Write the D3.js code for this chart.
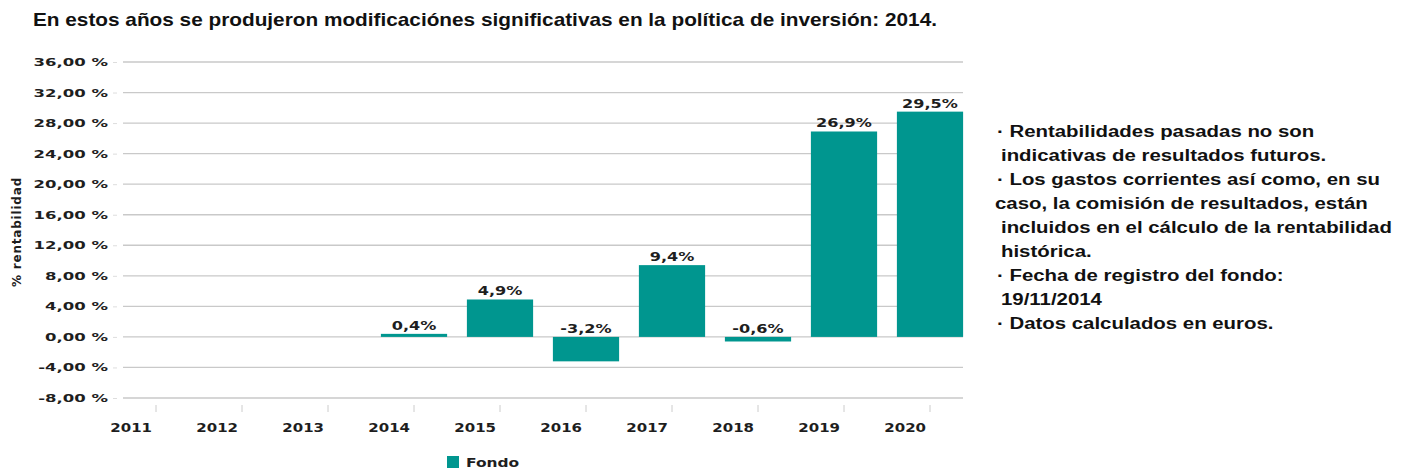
<!DOCTYPE html>
<html>
<head>
<meta charset="utf-8">
<script src="https://cdn.jsdelivr.net/npm/d3@7"></script>
<style>
  body { margin: 0; background: #fff; }
  .axis-label { font-family: "DejaVu Sans", sans-serif; font-weight: bold; fill: #1e1e1e; }
  .note { font-family: "Liberation Sans", Arial, sans-serif; font-weight: bold; font-size: 17px; fill: #111; }
</style>
</head>
<body>
<div class="chart"></div>
<script>
// data
let years = ["2011", "2012", "2013", "2014", "2015", "2016", "2017", "2018", "2019", "2020"];
let fondo = [null, null, null, 0.4, 4.9, -3.2, 9.4, -0.6, 26.9, 29.5];
let yTicks = [-8, -4, 0, 4, 8, 12, 16, 20, 24, 28, 32, 36];
let seriesName = "Fondo";
let title = "En estos años se produjeron modificaciónes significativas en la política de inversión: 2014.";
let notes = [
  "· Rentabilidades pasadas no son",
  "indicativas de resultados futuros.",
  "· Los gastos corrientes así como, en su",
  "caso, la comisión de resultados, están",
  "incluidos en el cálculo de la rentabilidad",
  "histórica.",
  "· Fecha de registro del fondo:",
  "19/11/2014",
  "· Datos calculados en euros."
];

let W = 1413, H = 472;
let color = "#00968f";

let svg = d3.select(".chart")
  .append("svg")
  .attr("width", W)
  .attr("height", H);

let data = years.map((y, i) => ({ year: y, value: fondo[i] }));

let x = d3.scaleBand()
  .domain(years)
  .range([113, 973])
  .paddingInner(0.23)
  .paddingOuter(0.115);

let y = d3.scaleLinear()
  .domain([-8, 36])
  .range([398, 62]);

let fmtTick = v => d3.format(".2f")(v).replace(".", ",").replace("−", "-") + " %";
let fmtVal = v => d3.format(".1f")(v).replace(".", ",").replace("−", "-") + "%";

// text in the picture is drawn a bit wider than the font
function stretch(sel, k) {
  sel.each(function() {
    let t = d3.select(this);
    let tx = +t.attr("x") || 0;
    t.attr("x", tx / k).attr("transform", "scale(" + k + ",1)");
  });
}

// title
svg.append("text")
  .attr("x", 33)
  .attr("y", 26)
  .attr("textLength", 904)
  .attr("lengthAdjust", "spacingAndGlyphs")
  .style("font-family", "'Liberation Sans', Arial, sans-serif")
  .style("font-weight", "bold")
  .style("font-size", "18.5px")
  .style("fill", "#111")
  .text(title);

// grid
svg.append("g")
  .selectAll("line")
  .data(yTicks)
  .enter()
  .append("line")
  .attr("x1", 123)
  .attr("x2", 963)
  .attr("y1", d => y(d))
  .attr("y2", d => y(d))
  .attr("stroke", "#c9c9c9")
  .attr("stroke-width", 1.3);

// y axis
let yAxis = d3.axisLeft(y)
  .tickValues(yTicks)
  .tickFormat(fmtTick)
  .tickSize(4)
  .tickPadding(5);

let yAxisGroup = svg.append("g")
  .attr("transform", "translate(117,0)")
  .call(yAxis);
yAxisGroup.select(".domain").remove();
yAxisGroup.selectAll(".tick line").attr("stroke", "#ddd");
yAxisGroup.selectAll(".tick text")
  .attr("class", "axis-label")
  .style("font-size", "11px")
  .call(stretch, 1.5);

// x axis
let xAxis = d3.axisBottom(x).tickSize(0).tickPadding(0);
let xAxisGroup = svg.append("g")
  .attr("transform", "translate(0,405)")
  .call(xAxis);
xAxisGroup.select(".domain").remove();
xAxisGroup.selectAll(".tick").append("line")
  .attr("y1", 0)
  .attr("y2", 7)
  .attr("stroke", "#ccc");
xAxisGroup.selectAll(".tick text")
  .attr("class", "axis-label")
  .attr("text-anchor", "end")
  .attr("x", -4)
  .attr("dy", 0)
  .attr("y", 27)
  .style("font-size", "12.5px")
  .call(stretch, 1.2);

// y axis title
svg.append("text")
  .attr("class", "axis-label")
  .attr("transform", "translate(21,232) rotate(-90)")
  .attr("text-anchor", "middle")
  .style("font-size", "12px")
  .style("letter-spacing", "0.8px")
  .text("% rentabilidad");

// bars
let shown = data.filter(d => d.value !== null);

svg.selectAll(".bar")
  .data(shown)
  .enter()
  .append("rect")
  .attr("class", "bar")
  .attr("x", d => x(d.year))
  .attr("width", x.bandwidth())
  .attr("y", d => y(Math.max(0, d.value)))
  .attr("height", d => Math.abs(y(d.value) - y(0)))
  .attr("fill", color);

svg.selectAll(".bar-label")
  .data(shown)
  .enter()
  .append("text")
  .attr("class", "axis-label bar-label")
  .attr("transform", d => "translate(" + (x(d.year) + x.bandwidth() / 2) + "," + (y(Math.max(0, d.value)) - 4) + ") scale(1.4,1)")
  .attr("text-anchor", "middle")
  .style("font-size", "11.5px")
  .text(d => fmtVal(d.value));

// legend
let legend = svg.append("g").attr("transform", "translate(447,456)");
legend.append("rect")
  .attr("width", 12)
  .attr("height", 12)
  .attr("fill", color);
legend.append("text")
  .attr("class", "axis-label")
  .attr("transform", "translate(19,11) scale(1.29,1)")
  .style("font-size", "12px")
  .text(seriesName);

// notes on the right
let noteX = [997, 1001, 997, 995, 1001, 1001, 997, 1001, 997];
svg.append("g")
  .selectAll("text")
  .data(notes)
  .enter()
  .append("text")
  .attr("class", "note")
  .attr("transform", (d, i) => "translate(" + noteX[i] + "," + (137 + i * 24) + ") scale(1.2,1)")
  .text(d => d);
</script>
</body>
</html>
